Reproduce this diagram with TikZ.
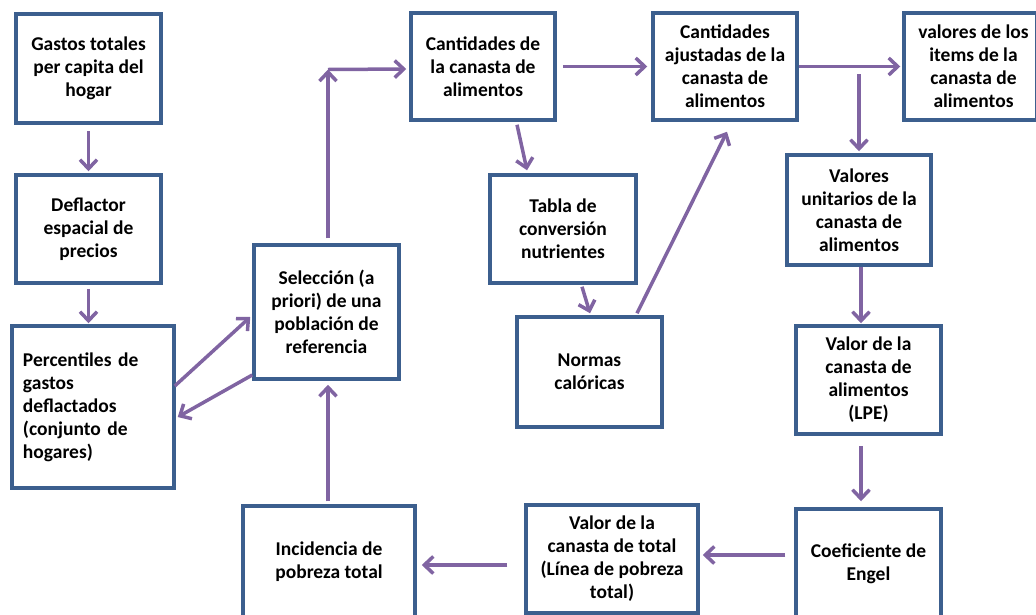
\documentclass[tikz,border=0pt]{standalone}
\usepackage{fontspec}
\setmainfont{Carlito}
\usetikzlibrary{arrows.meta,calc}
\definecolor{boxblue}{HTML}{3C5F8E}
\definecolor{arrpurple}{HTML}{8064A2}
\begin{document}
\begin{tikzpicture}[x=1pt,y=-1pt,
  box/.style={draw=boxblue,line width=3.5pt,fill=white,inner sep=0pt,align=center,
    font=\fontsize{19.5}{23}\selectfont\bfseries},
  arr/.style={draw=arrpurple,line width=3.5pt,-{Straight Barb[length=9pt,width=17pt]}}]
\useasboundingbox (0,0) rectangle (1036,614);
% boxes
\node[box,minimum width=145,minimum height=109] (g) at (88.5,68.5) {Gastos totales\\per capita del\\hogar};
\node[box,minimum width=145,minimum height=108] (d) at (88.5,229) {Deflactor\\espacial de\\precios};
\node[box,minimum width=162,minimum height=162,align=left,text width=140] (p) at (93,407) {Percentiles de\\gastos\\deflactados\\(conjunto de\\hogares)};
\node[box,minimum width=145,minimum height=134] (s) at (326.5,312) {Selección (a\\priori) de una\\población de\\referencia};
\node[box,minimum width=144,minimum height=107] (c) at (483,66.5) {Cantidades de\\la canasta de\\alimentos};
\node[box,minimum width=146,minimum height=108] (t) at (563,229) {Tabla de\\conversión\\nutrientes};
\node[box,minimum width=145,minimum height=110] (n) at (589.5,372) {Normas\\calóricas};
\node[box,minimum width=144,minimum height=107] (a) at (725,66.5) {Cantidades\\ajustadas de la\\canasta de\\alimentos};
\node[box,minimum width=133,minimum height=107] (v) at (970.5,66.5) {\hspace*{6pt}valores de los\\\hspace*{6pt}items de la\\\hspace*{6pt}canasta de\\\hspace*{6pt}alimentos};
\node[box,minimum width=144,minimum height=110] (u) at (859,210) {Valores\\unitarios de la\\canasta de\\alimentos};
\node[box,minimum width=145,minimum height=108] (l) at (868.5,380) {Valor de la\\canasta de\\alimentos\\(LPE)};
\node[box,minimum width=145,minimum height=109] (e) at (868.5,563.5) {Coeficiente de\\Engel};
\node[box,minimum width=172,minimum height=108] (vt) at (612,559) {Valor de la\\canasta de total\\(Línea de pobreza\\total)};
\node[box,minimum width=172,minimum height=111] (i) at (329,561.5) {Incidencia de\\pobreza total};
% connectors
\coordinate (k) at ($(s.north |- c.west)+(1.5,3)$);
\draw[arr] ($(g.south)+(0,6.5)$) -- ($(d.north)+(0,-2)$);
\draw[arr] ($(d.south)+(0,4)$) -- ($(d.south |- p.north)+(0,-1)$);
\draw[arr] ($(p.east)+(-1,-21)$) -- ($(s.west)+(-2,5)$);
\draw[arr] ($(s.west)+(0,63)$) -- ($(p.east)+(2,10)$);
\draw[arr] ($(s.north)+(1.5,-5)$) -- (k);
\draw[arr] (k) -- ($(c.west)+(-3,2.5)$);
\draw[arr] ($(c.east)+(6,0)$) -- ($(a.west)+(-4,0)$);
\draw[arr] ($(c.south)+(34,3)$) -- ($(t.north)+(-36,-3)$);
\draw[arr] ($(t.south)+(19,2)$) -- ($(n.north)+(0.5,-2)$);
\draw[arr] ($(n.north)+(47.5,-2)$) -- ($(a.south)+(2,10)$);
\draw[arr] (a.east) -- ($(v.west)+(-2,0)$);
\draw[arr] ($(u.north)+(0,-79)$) -- ($(u.north)+(0,-2)$);
\draw[arr] ($(u.south)+(2,0)$) -- ($(l.north)+(-7.5,-1)$);
\draw[arr] ($(l.south)+(-7.5,10)$) -- ($(e.north)+(-7.5,-6)$);
\draw[arr] ($(e.west)+(-9,-8.5)$) -- ($(vt.east)+(3,-4)$);
\draw[arr] ($(vt.west)+(-17,6)$) -- ($(i.east)+(5,3.5)$);
\draw[arr] ($(i.north)+(-1,-3)$) -- ($(s.south)+(1.5,4)$);
\end{tikzpicture}
\end{document}
